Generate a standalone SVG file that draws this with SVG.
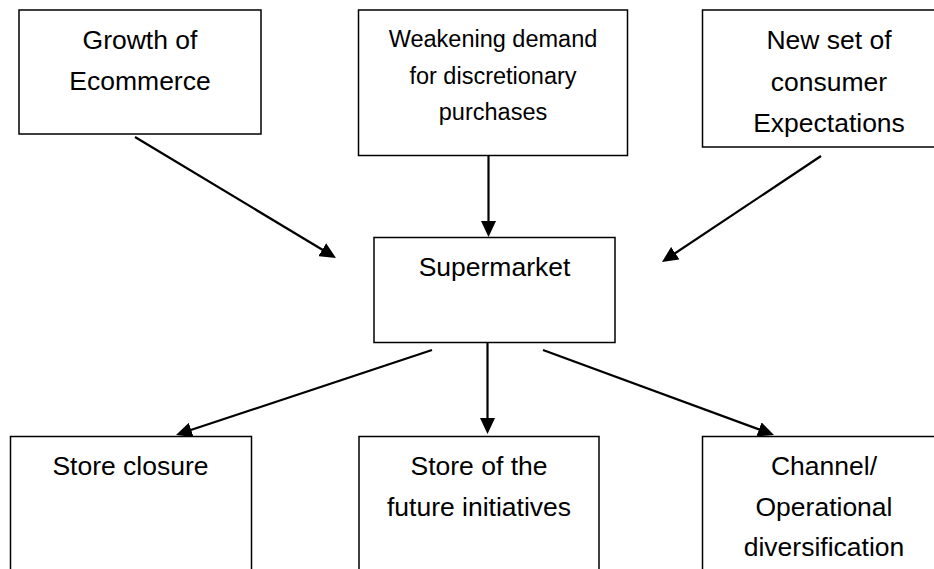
<svg xmlns="http://www.w3.org/2000/svg" width="934" height="569" viewBox="0 0 934 569">
  <style>
    .box { fill: #ffffff; stroke: #000000; stroke-width: 1.5; }
    .lbl { font-family: "Liberation Sans", Arial, sans-serif; font-size: 26.5px; fill: #000000; text-anchor: middle; }
    .sm { font-size: 23.5px; }
    .conn { stroke: #000000; stroke-width: 2.2; fill: none; marker-end: url(#head); }
  </style>
  <defs>
    <marker id="head" viewBox="0 0 16 15" refX="6" refY="7.5" markerWidth="16" markerHeight="15" markerUnits="userSpaceOnUse" orient="auto">
      <path d="M0,0 L16,7.5 L0,15 Z" fill="#000000"/>
    </marker>
  </defs>
  <rect width="934" height="569" fill="#ffffff"/>

  <g id="growth-ecommerce">
    <rect class="box" x="19" y="10" width="242" height="124"/>
    <text class="lbl" x="140" y="49">Growth of</text>
    <text class="lbl" x="140" y="90">Ecommerce</text>
  </g>

  <g id="weakening-demand">
    <rect class="box" x="358.5" y="10" width="269" height="145.5"/>
    <text class="lbl sm" x="493" y="47">Weakening demand</text>
    <text class="lbl sm" x="493" y="83.5">for discretionary</text>
    <text class="lbl sm" x="493" y="119.5">purchases</text>
  </g>

  <g id="consumer-expectations">
    <rect class="box" x="702.5" y="10" width="254" height="137"/>
    <text class="lbl" x="829" y="49">New set of</text>
    <text class="lbl" x="829" y="90.5">consumer</text>
    <text class="lbl" x="829" y="131.5">Expectations</text>
  </g>

  <g id="supermarket">
    <rect class="box" x="374" y="237.5" width="241" height="105"/>
    <text class="lbl" x="494.5" y="276">Supermarket</text>
  </g>

  <g id="store-closure">
    <rect class="box" x="10.5" y="436.5" width="241" height="150"/>
    <text class="lbl" x="130.5" y="475">Store closure</text>
  </g>

  <g id="store-future">
    <rect class="box" x="359" y="436.5" width="240" height="150"/>
    <text class="lbl" x="479" y="475">Store of the</text>
    <text class="lbl" x="479" y="515.5">future initiatives</text>
  </g>

  <g id="channel-diversification">
    <rect class="box" x="702.5" y="436.5" width="243" height="150"/>
    <text class="lbl" x="824" y="475">Channel/</text>
    <text class="lbl" x="824" y="515.5">Operational</text>
    <text class="lbl" x="824" y="556">diversification</text>
  </g>

  <g id="connectors">
    <line class="conn" x1="135" y1="137" x2="327.4" y2="252.8"/>
    <line class="conn" x1="488.5" y1="156" x2="488.5" y2="227"/>
    <line class="conn" x1="821" y1="156" x2="670.3" y2="256.5"/>
    <line class="conn" x1="432" y1="350" x2="185.5" y2="431.8"/>
    <line class="conn" x1="487.5" y1="343" x2="487.5" y2="424"/>
    <line class="conn" x1="543" y1="350" x2="764.6" y2="431.5"/>
  </g>
</svg>
